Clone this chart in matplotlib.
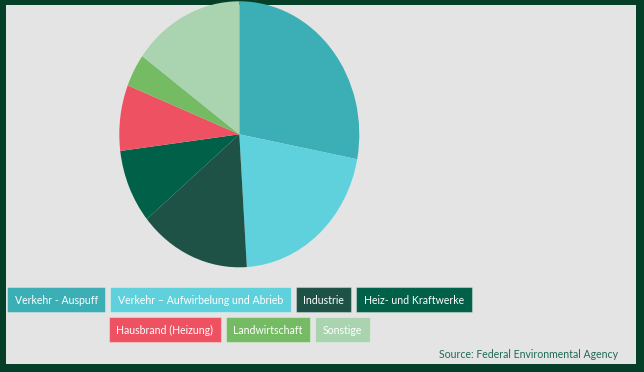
import matplotlib.pyplot as plt
from matplotlib.patches import Rectangle

# PM10 sources, shares in percent
labels = ['Verkehr - Auspuff', 'Verkehr – Aufwirbelung und Abrieb', 'Industrie',
          'Heiz- und Kraftwerke', 'Hausbrand (Heizung)', 'Landwirtschaft', 'Sonstige']
shares = [28, 21, 15, 9, 8, 4, 15]
colors = ['#3CAEB5', '#5ED1DC', '#1E5246', '#006048', '#EE5262', '#75BB63', '#AAD3AF']
legend_rows = [[0, 1, 2, 3], [4, 5, 6]]
source = 'Source: Federal Environmental Agency'

W, H = 644, 372
fig = plt.figure(figsize=(W / 100, H / 100), dpi=100)
fig.patch.set_facecolor('#053F27')

# light panel
panel_top = H - 5
fig.patches.append(Rectangle((6 / W, 8 / H), 630 / W, (panel_top - 8) / H,
                             transform=fig.transFigure, facecolor='#E4E4E4',
                             edgecolor='none', zorder=-1))

# pie (slightly taller than wide), starts at 12 o'clock, clockwise;
# the axes stops at the panel top so the pie is cut there
cx, cy = 239.3, H - 134.3
rx, ry = 120, 133
ax_h = panel_top - (cy - ry)
ax = fig.add_axes([(cx - rx) / W, (cy - ry) / H, 2 * rx / W, ax_h / H])
ax.pie(shares, colors=colors, startangle=90, counterclock=False,
       radius=1, wedgeprops=dict(linewidth=0))
ax.set_aspect('auto')
ax.set_xlim(-1, 1)
ax.set_ylim(-1, -1 + ax_h / ry)
ax.axis('off')

# legend as coloured boxes, each row centred under the pie
fs = 7.6
pad = 7.5
gap = 5
box_h = 24.5
row_top = [287, 317]
renderer = fig.canvas.get_renderer()
for r, row in enumerate(legend_rows):
    widths = []
    for i in row:
        t = fig.text(0, 0, labels[i], fontsize=fs, family='Lato')
        widths.append(t.get_window_extent(renderer).width + 2 * pad)
        t.remove()
    total = sum(widths) + gap * (len(row) - 1)
    x = cx - total / 2
    y0 = H - row_top[r] - box_h
    for i, bw in zip(row, widths):
        fig.patches.append(Rectangle((x / W, y0 / H), bw / W, box_h / H,
                                     transform=fig.transFigure, facecolor=colors[i],
                                     edgecolor='#FFFFFF55', linewidth=0.8))
        fig.text((x + bw / 2) / W, (y0 + box_h / 2) / H, labels[i], color='white',
                 fontsize=fs, family='Lato', ha='center', va='center_baseline')
        x += bw + gap

fig.text(618 / W, (H - 353) / H, source, color='#1F6B55', fontsize=7.6,
         family='Lato', ha='right', va='center_baseline')

fig.savefig('out.png', dpi=100, facecolor=fig.get_facecolor())
